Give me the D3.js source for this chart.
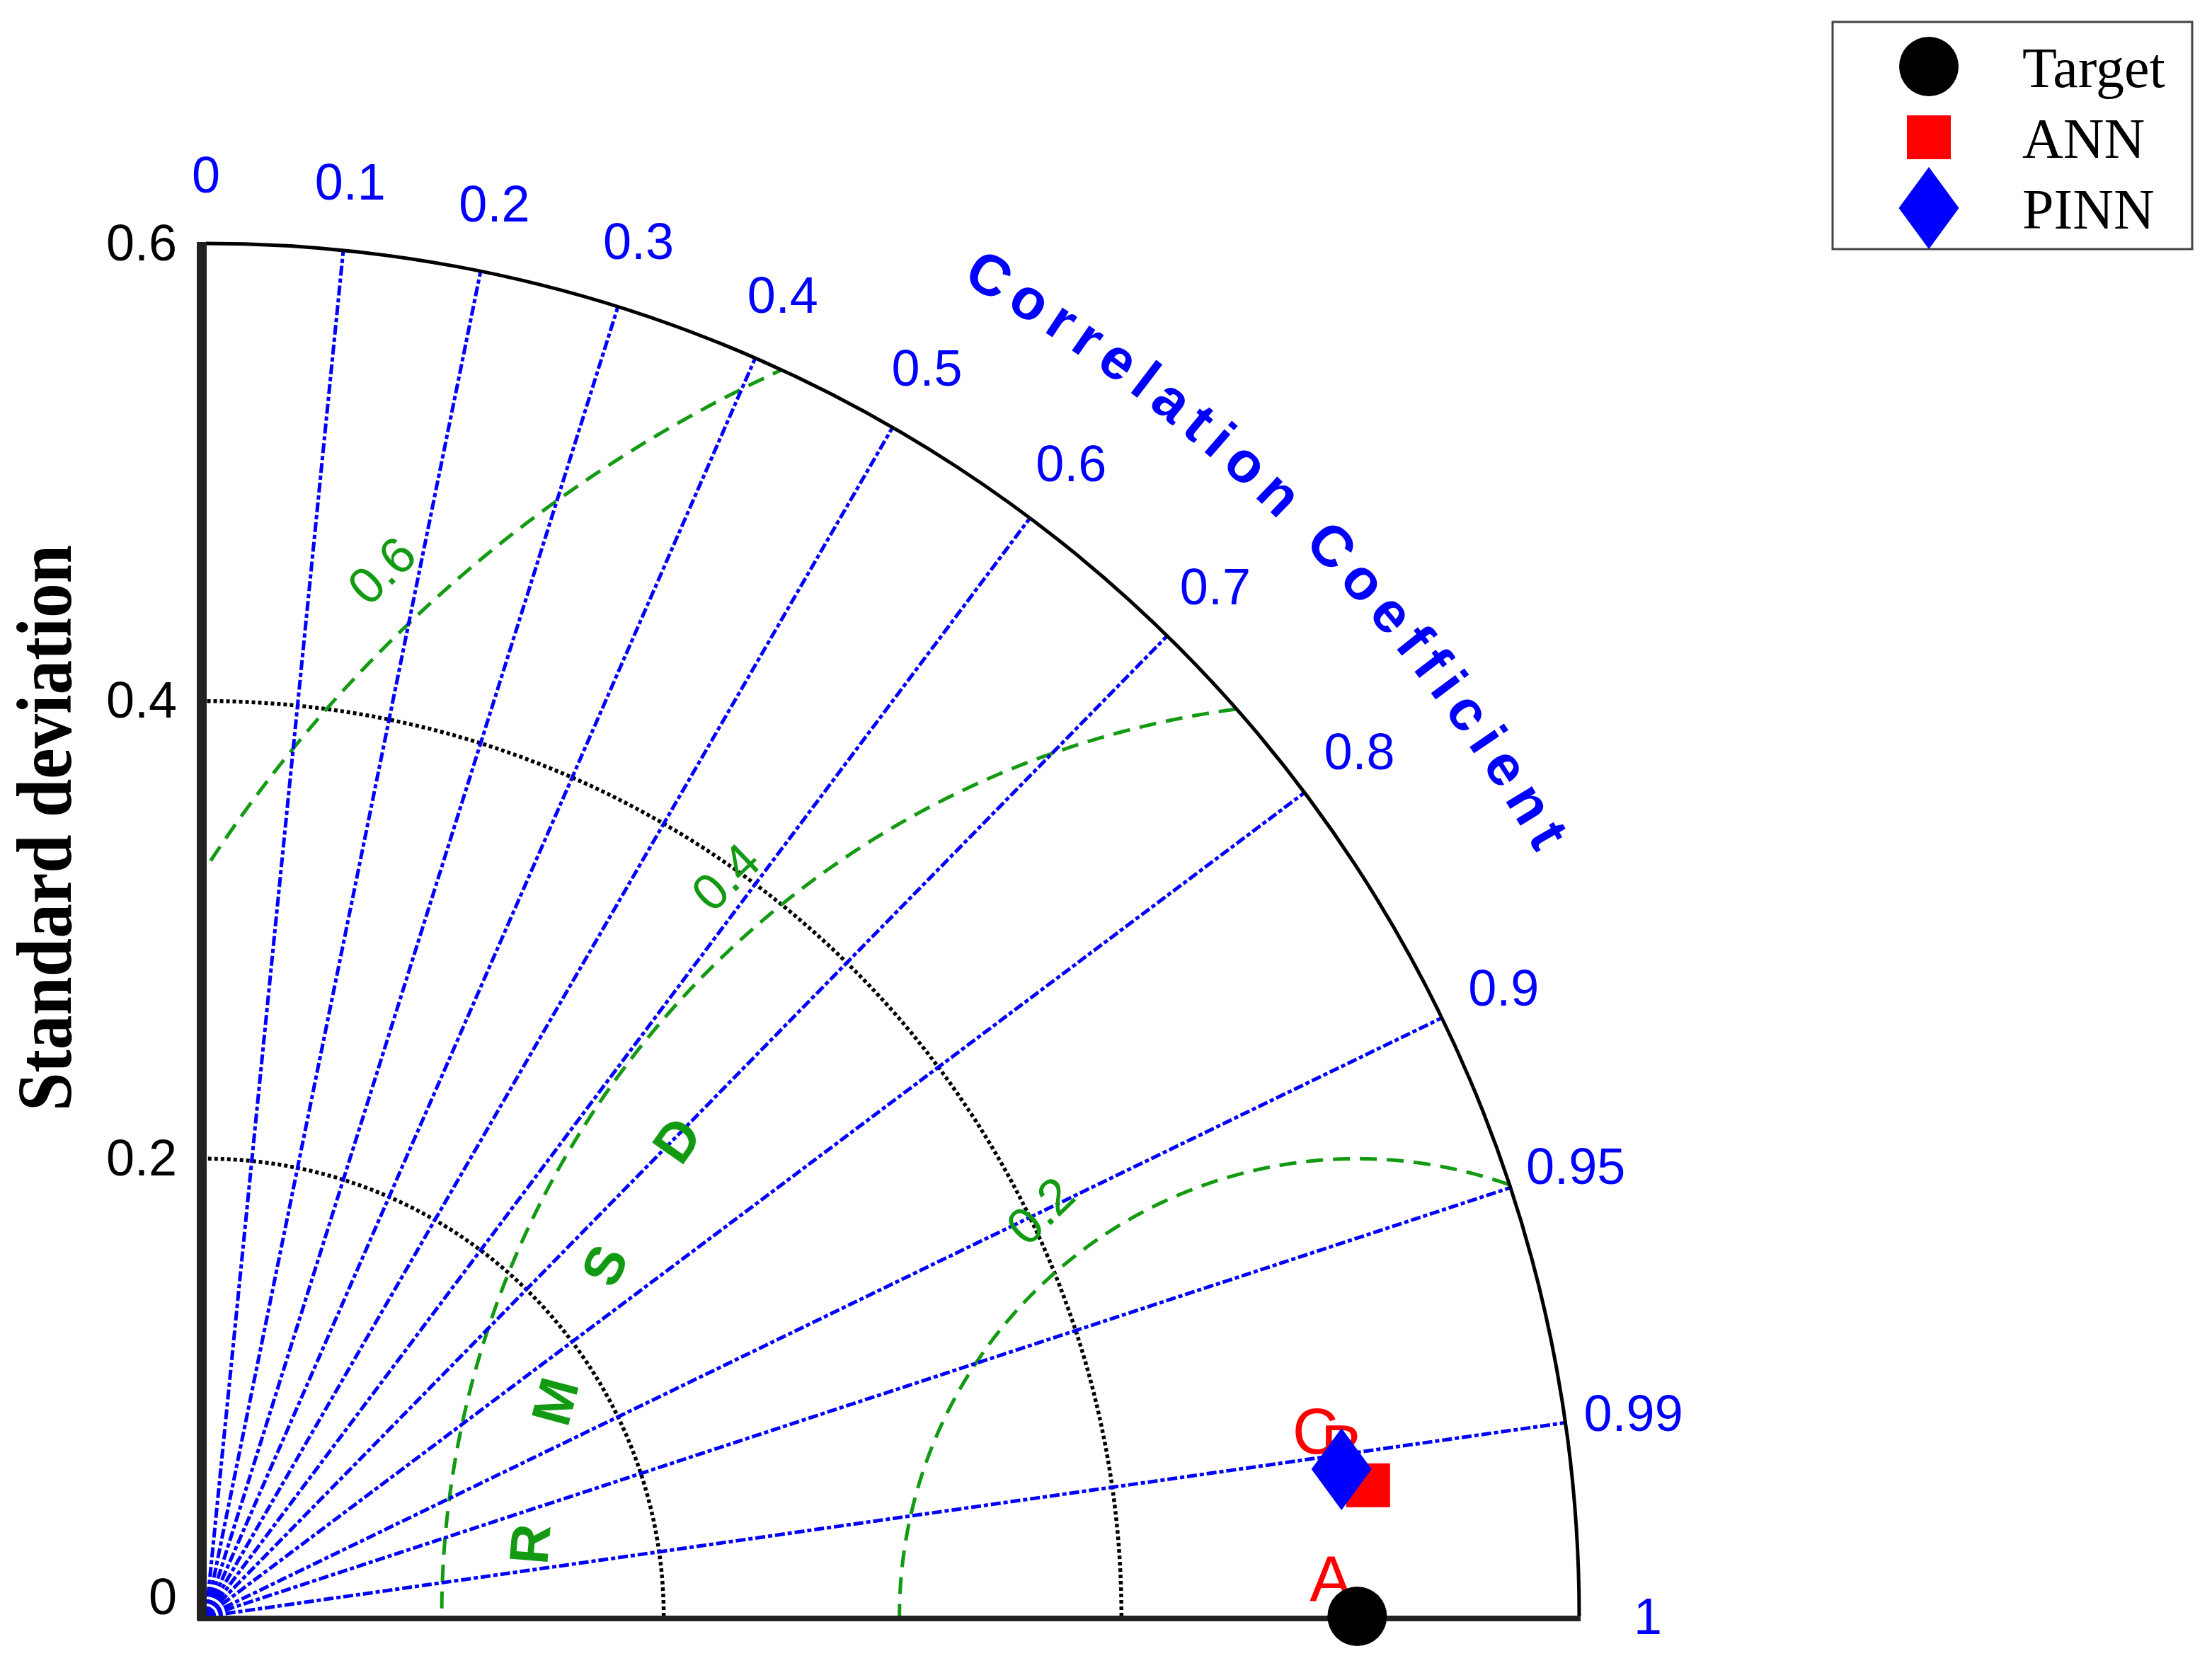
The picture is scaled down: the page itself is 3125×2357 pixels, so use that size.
<!DOCTYPE html>
<html>
<head>
<meta charset="utf-8">
<script src="https://cdn.jsdelivr.net/npm/d3@7"></script>
<style>
  body { margin: 0; background: #fff; }
</style>
</head>
<body>
<div class="canva"></div>
<script>
// data
const stdTicks = [0, 0.2, 0.4, 0.6];
const corrTicks = [0, 0.1, 0.2, 0.3, 0.4, 0.5, 0.6, 0.7, 0.8, 0.9, 0.95, 0.99, 1];
const rmsdTicks = [0.2, 0.4, 0.6];
const modelNames = ["Target", "ANN", "PINN"];
const modelStd = [0.503, 0.511, 0.5003];
const modelCorr = [1, 0.9937, 0.9917];
const pointLabels = ["A", "B", "C"];
const modelColors = ["#000000", "#ff0000", "#0000ff"];
const modelShapes = ["circle", "square", "diamond"];

const W = 3125, H = 2357;
const ox = 291, oy = 2284, R = 1940;
const sans = "'Liberation Sans', Arial, sans-serif";
const serif = "'Liberation Serif', 'Times New Roman', serif";
const green = "#139a13";

const svg = d3.select(".canva").append("svg")
    .attr("width", W)
    .attr("height", H);

const rScale = d3.scaleLinear().domain([0, 0.6]).range([0, R]);
const stdMax = 0.6;

function px(s, c) { return ox + rScale(s) * c; }
function py(s, c) { return oy - rScale(s) * Math.sqrt(Math.max(0, 1 - c * c)); }

// quarter disc clip
const clip = svg.append("defs").append("clipPath").attr("id", "quarter");
clip.append("path")
    .attr("d", `M${ox},${oy} L${ox + R},${oy} A${R},${R} 0 0 0 ${ox},${oy - R} Z`);

const plot = svg.append("g");

// standard deviation arcs (dotted)
const arcLine = d3.line().x(d => d[0]).y(d => d[1]);
stdTicks.filter(s => s > 0 && s < stdMax).forEach(s => {
  const pts = d3.range(0, 90.25, 0.25).map(a => {
    const t = a * Math.PI / 180;
    return [ox + rScale(s) * Math.cos(t), oy - rScale(s) * Math.sin(t)];
  });
  plot.append("path")
      .attr("d", arcLine(pts))
      .attr("fill", "none")
      .attr("stroke", "#000")
      .attr("stroke-width", 5.5)
      .attr("stroke-dasharray", "5,4");
});

// RMSD arcs around target (green dashed)
const tStd = modelStd[0];
const rmsdG = plot.append("g").attr("clip-path", "url(#quarter)");
rmsdTicks.forEach(e => {
  const pts = d3.range(0, 180.25, 0.25).map(a => {
    const t = a * Math.PI / 180;
    return [ox + rScale(tStd + e * Math.cos(t)), oy - rScale(e * Math.sin(t))];
  });
  rmsdG.append("path")
      .attr("d", arcLine(pts))
      .attr("fill", "none")
      .attr("stroke", green)
      .attr("stroke-width", 5)
      .attr("stroke-dasharray", "24,14");
});

// correlation rays
corrTicks.filter(c => c > 0 && c < 1).forEach(c => {
  plot.append("line")
      .attr("x1", ox).attr("y1", oy)
      .attr("x2", px(stdMax, c)).attr("y2", py(stdMax, c))
      .attr("stroke", "#0000ff")
      .attr("stroke-width", 5)
      .attr("stroke-dasharray", "14,4,6,4");
});

// outer arc
plot.append("path")
    .attr("d", `M${ox + R},${oy} A${R},${R} 0 0 0 ${ox},${oy - R}`)
    .attr("fill", "none")
    .attr("stroke", "#000")
    .attr("stroke-width", 5);

// axes lines
plot.append("line")
    .attr("x1", ox - 6).attr("y1", oy + 6)
    .attr("x2", ox - 6).attr("y2", oy - R - 2)
    .attr("stroke", "#222").attr("stroke-width", 14);
plot.append("line")
    .attr("x1", ox - 12).attr("y1", oy + 3)
    .attr("x2", ox + R + 2).attr("y2", oy + 3)
    .attr("stroke", "#222").attr("stroke-width", 8);

// std tick labels with d3 axis
const yScale = d3.scaleLinear().domain([0, 0.6]).range([oy, oy - R]);
const yAxis = svg.append("g")
    .attr("transform", `translate(${ox - 41},0)`)
    .call(d3.axisLeft(yScale).tickValues(stdTicks).tickSize(0).tickPadding(0)
          .tickFormat(d3.format("")));
yAxis.select(".domain").remove();
yAxis.selectAll("text")
    .attr("font-family", sans)
    .attr("font-size", 72)
    .attr("fill", "#000")
    .attr("dy", d => d === 0 ? "-0.05em" : "0.32em");

// correlation tick labels
svg.append("g").selectAll("text")
  .data(corrTicks)
  .join("text")
    .attr("x", d => px(stdMax * 1.05, d))
    .attr("y", d => py(stdMax * 1.05, d))
    .attr("text-anchor", "middle")
    .attr("dy", "0.35em")
    .attr("font-family", sans)
    .attr("font-size", 72)
    .attr("fill", "#0000ff")
    .text(d => d3.format("")(d));

// Correlation Coefficient title along arc
const rb = R * 1.132 - 29;
const a0 = 80 * Math.PI / 180, a1 = 10 * Math.PI / 180;
svg.append("defs").append("path")
    .attr("id", "corrPath")
    .attr("d", `M${ox + rb * Math.cos(a0)},${oy - rb * Math.sin(a0)} A${rb},${rb} 0 0 1 ${ox + rb * Math.cos(a1)},${oy - rb * Math.sin(a1)}`);
svg.append("text")
    .attr("font-family", sans)
    .attr("font-weight", "bold")
    .attr("font-size", 81)
    .attr("letter-spacing", 13)
    .attr("fill", "#0000ff")
  .append("textPath")
    .attr("href", "#corrPath")
    .attr("startOffset", "50%")
    .attr("text-anchor", "middle")
    .text("Correlation Coefficient");

// RMSD tick labels
svg.append("g").selectAll("text")
  .data(rmsdTicks)
  .join("text")
    .attr("transform", d => {
      const ang = 125.5 + 12.5 * d;
      const t = ang * Math.PI / 180;
      const x = ox + rScale(tStd) + (rScale(d) + 81) * Math.cos(t);
      const y = oy - (rScale(d) + 81) * Math.sin(t);
      return `translate(${x},${y}) rotate(-44)`;
    })
    .attr("text-anchor", "middle")
    .attr("dy", "0.35em")
    .attr("font-family", sans)
    .attr("font-size", 72)
    .attr("fill", green)
    .text(d => d3.format("")(d));

// RMSD title letters
const rmsdTitle = "RMSD".split("");
const rmsdTitleR = 0.363;
svg.append("g").selectAll("text")
  .data(rmsdTitle)
  .join("text")
    .attr("transform", (d, i) => {
      const ang = 175 - i * 10;
      const t = ang * Math.PI / 180;
      const x = ox + rScale(tStd + rmsdTitleR * Math.cos(t));
      const y = oy - rScale(rmsdTitleR * Math.sin(t));
      return `translate(${x},${y}) rotate(${90 - ang})`;
    })
    .attr("text-anchor", "middle")
    .attr("dy", "0.35em")
    .attr("font-family", sans)
    .attr("font-weight", "bold")
    .attr("font-size", 78)
    .attr("fill", green)
    .text(d => d);

// y axis title
svg.append("text")
    .attr("transform", `translate(100,1170) rotate(-90)`)
    .attr("text-anchor", "middle")
    .attr("font-family", serif)
    .attr("font-weight", "bold")
    .attr("font-size", 110)
    .attr("textLength", 800)
    .attr("lengthAdjust", "spacingAndGlyphs")
    .text("Standard deviation");

// markers
function drawShape(g, shape, color) {
  if (shape === "circle") {
    g.append("circle").attr("r", 42).attr("fill", color);
  } else if (shape === "square") {
    g.append("rect").attr("x", -31).attr("y", -31).attr("width", 62).attr("height", 62).attr("fill", color);
  } else {
    g.append("path").attr("d", "M0,-58 L42.5,0 L0,58 L-42.5,0 Z").attr("fill", color);
  }
}

const points = modelNames.map((n, i) => ({
  name: n, std: modelStd[i], corr: modelCorr[i], label: pointLabels[i],
  color: modelColors[i], shape: modelShapes[i]
}));

// point labels under markers
svg.append("g").selectAll("text")
  .data(points)
  .join("text")
    .attr("x", d => px(d.std, d.corr) - 37)
    .attr("y", d => py(d.std, d.corr) - 54)
    .attr("text-anchor", "middle")
    .attr("dy", "0.36em")
    .attr("font-family", sans)
    .attr("font-size", 90)
    .attr("fill", "#ff0000")
    .text(d => d.label);

points.forEach(d => {
  const g = svg.append("g")
      .attr("transform", `translate(${px(d.std, d.corr)},${py(d.std, d.corr)})`);
  drawShape(g, d.shape, d.color);
});

// legend
const legend = svg.append("g");
legend.append("rect")
    .attr("x", 2589).attr("y", 31)
    .attr("width", 508).attr("height", 321)
    .attr("fill", "#fff")
    .attr("stroke", "#444")
    .attr("stroke-width", 3);
points.forEach((d, i) => {
  const cy = 94 + i * 100;
  const g = legend.append("g").attr("transform", `translate(2725,${cy})`);
  drawShape(g, d.shape, d.color);
  legend.append("text")
      .attr("x", 2857).attr("y", cy + 29)
      .attr("font-family", serif)
      .attr("font-size", 80)
      .attr("fill", "#000")
      .text(d.name);
});
</script>
</body>
</html>
